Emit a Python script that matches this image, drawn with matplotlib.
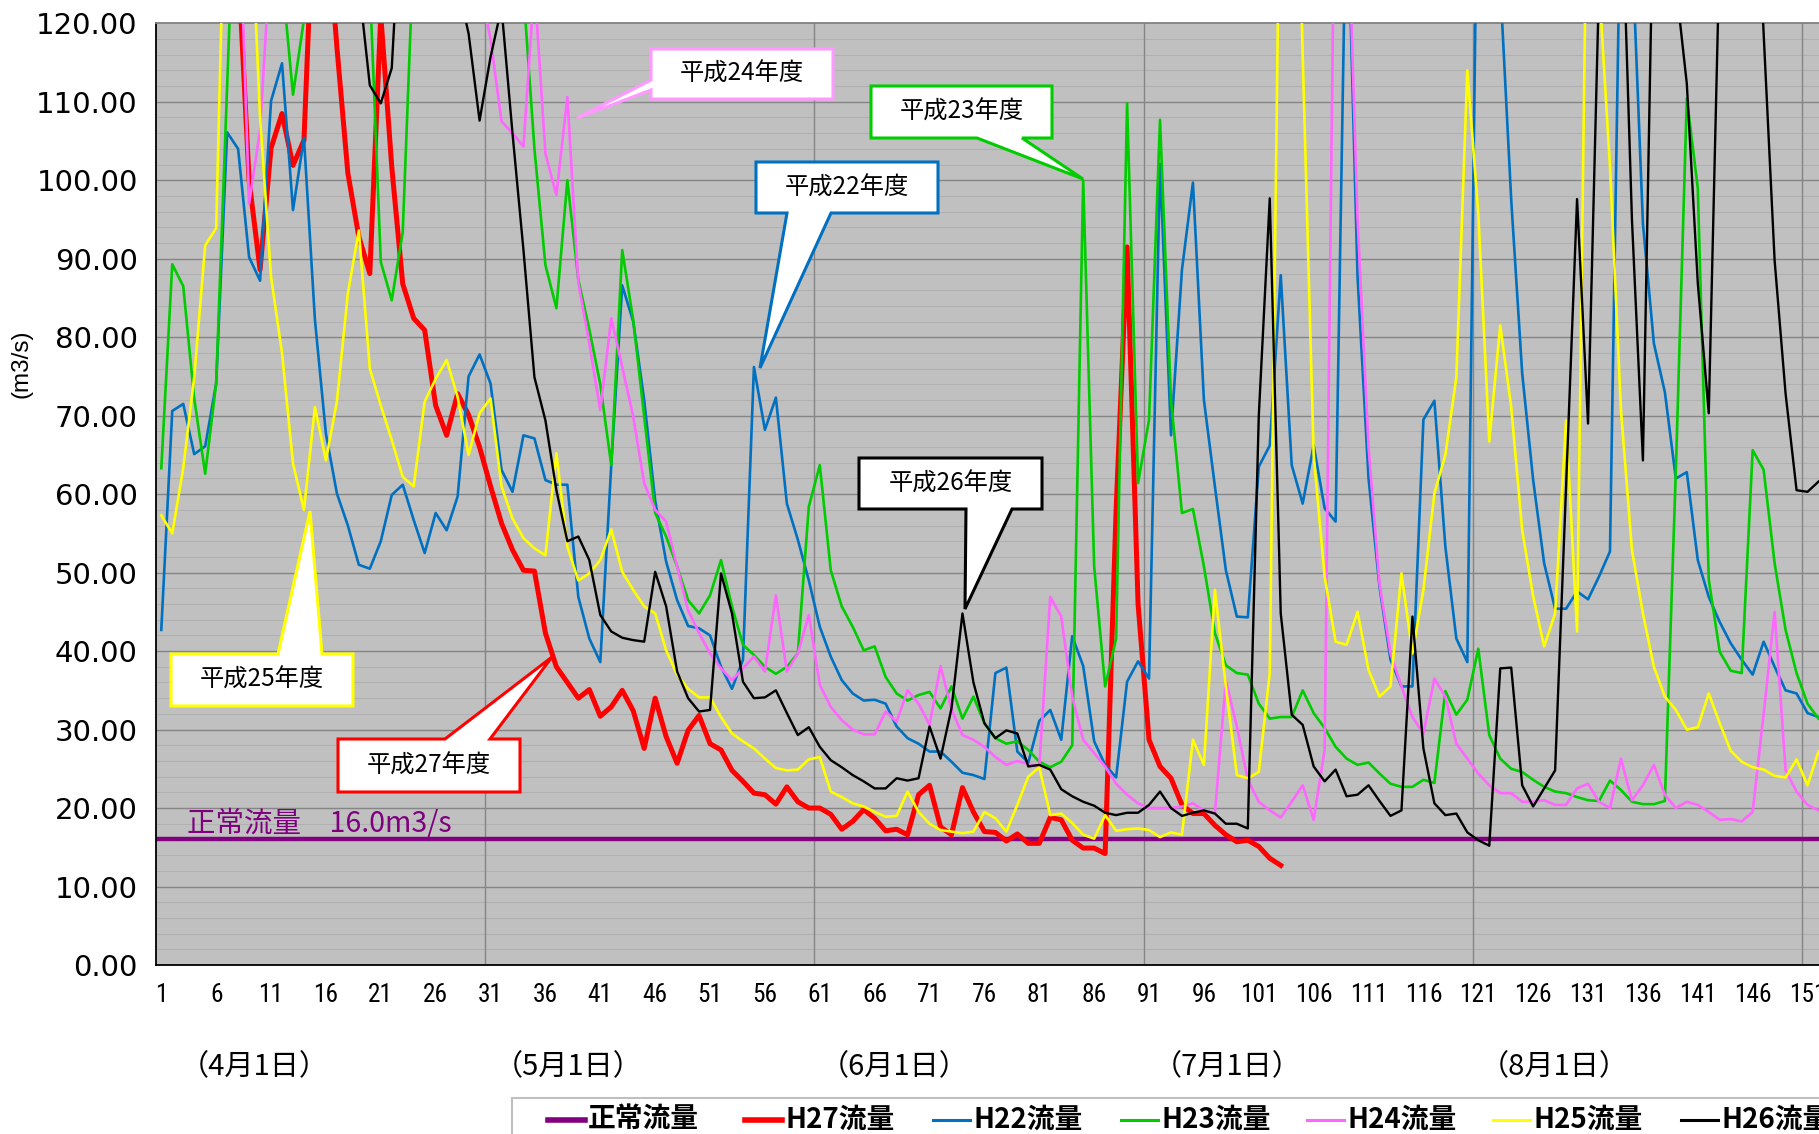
import matplotlib
matplotlib.use("Agg")
import matplotlib.pyplot as plt
from matplotlib.transforms import Affine2D
from matplotlib.patches import Polygon, Rectangle
from matplotlib.lines import Line2D
from matplotlib import font_manager
from matplotlib.font_manager import FontProperties
import numpy as np

# ---------------- data ----------------
days = list(range(1, 153))
normal_flow = 16.0

h27 = [150, 160, 170, 165, 180, 200, 190, 128, 100, 88.6,
       104.1, 108.5, 101.9, 105.1, 140, 135, 117, 100.9, 92.8, 88.1,
       121, 101.7, 86.8, 82.4, 80.9, 71.3, 67.5, 72.8, 70.1, 66.0,
       61.0, 56.3, 52.9, 50.3, 50.2, 42.3, 38.0, 36.0, 34.0, 35.1,
       31.7, 32.9, 35.0, 32.4, 27.6, 34.0, 29.1, 25.7, 29.9, 31.8,
       28.2, 27.4, 24.8, 23.4, 21.9, 21.7, 20.5, 22.7, 20.8, 20.0,
       20.0, 19.2, 17.3, 18.3, 19.8, 18.7, 17.1, 17.3, 16.6, 21.7,
       22.9, 17.6, 16.6, 22.6, 19.5, 17.0, 16.9, 15.8, 16.7, 15.5,
       15.5, 18.8, 18.5, 15.9, 14.9, 14.9, 14.2, 58.0, 91.5, 46.0,
       28.7, 25.3, 23.8, 20.4, 19.3, 19.3, 17.8, 16.6, 15.7, 15.9,
       15.1, 13.6, 12.7]

h22 = [42.7, 70.6, 71.5, 65.1, 66.1, 74.1, 106.1, 104.0, 90.2, 87.2,
       110.1, 114.9, 96.2, 105.4, 82.2, 67.7, 60.1, 56.0, 51.0, 50.5,
       54.0, 59.9, 61.2, 56.7, 52.5, 57.6, 55.4, 59.7, 75.0, 77.8,
       74.1, 63.1, 60.3, 67.5, 67.1, 61.8, 61.2, 61.2, 46.9, 41.6,
       38.6, 63.7, 86.6, 82.0, 72.0, 59.2, 51.4, 46.5, 43.2, 42.9,
       42.0, 38.0, 35.2, 38.9, 76.2, 68.2, 72.3, 58.8, 54.2, 49.0,
       43.1, 39.3, 36.3, 34.6, 33.7, 33.8, 33.3, 30.4, 28.9, 28.2,
       27.2, 27.2, 25.9, 24.5, 24.2, 23.7, 37.2, 37.9, 27.2, 25.8,
       31.1, 32.5, 28.7, 41.9, 38.1, 28.5, 25.5, 23.9, 36.1, 38.7,
       36.5, 102.1, 67.5, 88.6, 99.7, 72.0, 61.0, 50.3, 44.4, 44.3,
       63.5, 66.2, 87.9, 63.7, 58.8, 66.2, 58.2, 56.5, 140, 87.7,
       62.0, 48.2, 38.9, 35.5, 35.5, 69.5, 71.9, 53.3, 41.6, 38.6,
       150, 160, 125, 97.5, 75.4, 61.8, 51.2, 45.4, 45.4, 47.6,
       46.6, 49.5, 52.7, 140, 130, 94.5, 79.2, 73.0, 62.0, 62.8,
       51.6, 46.9, 43.7, 41.0, 38.9, 37.0, 41.2, 38.0, 35.0, 34.6,
       32.1, 31.6]

h23 = [63.3, 89.3, 86.5, 72.2, 62.6, 74.1, 112, 150, 170, 160,
       140, 126, 110.9, 120.5, 140, 160, 170, 150, 135, 125,
       89.6, 84.7, 93.4, 130, 160, 180, 170, 150, 160, 170,
       150, 140, 130, 124, 104, 89.2, 83.7, 100.0, 87.3, 81.0,
       74.0, 63.7, 91.1, 82.2, 69.9, 57.6, 54.6, 50.8, 46.5, 44.8,
       47.1, 51.6, 45.7, 40.8, 39.5, 38.0, 37.1, 38.0, 39.7, 58.4,
       63.7, 50.3, 45.7, 43.1, 40.1, 40.6, 36.7, 34.6, 33.7, 34.4,
       34.8, 32.7, 35.5, 31.4, 34.2, 30.8, 28.9, 28.2, 28.5, 27.4,
       25.9, 25.2, 25.9, 28.0, 100.0, 50.8, 35.5, 41.6, 109.8, 61.4,
       69.5, 107.7, 72.0, 57.6, 58.1, 50.8, 42.3, 38.2, 37.2, 37.0,
       33.3, 31.4, 31.6, 31.6, 35.0, 32.1, 30.2, 27.8, 26.3, 25.5,
       25.8, 24.4, 23.1, 22.7, 22.7, 23.6, 23.2, 34.9, 31.9, 33.8,
       40.3, 29.3, 26.3, 25.0, 24.6, 23.6, 22.7, 22.1, 21.9, 21.4,
       21.0, 20.9, 23.5, 22.3, 20.8, 20.5, 20.5, 20.9, 63.0, 110.4,
       99.0, 49.1, 39.9, 37.5, 37.2, 65.6, 63.1, 51.2, 42.7, 37.2,
       33.3, 31.4]

h24 = [150, 160, 170, 180, 190, 200, 180, 140, 97.0, 106.4,
       130, 150, 170, 160, 180, 200, 190, 170, 160, 150,
       160, 170, 180, 160, 150, 140, 150, 160, 140, 125,
       118, 107.5, 106.0, 104.3, 125, 103.4, 98.1, 110.6, 86.9, 79.2,
       70.7, 82.4, 76.2, 69.9, 61.4, 58.0, 56.5, 50.8, 45.2, 42.3,
       39.7, 37.8, 36.3, 37.8, 39.3, 37.4, 47.1, 37.4, 39.7, 44.6,
       35.7, 32.9, 31.2, 30.0, 29.4, 29.4, 32.3, 31.0, 35.0, 33.3,
       30.6, 38.1, 32.6, 29.3, 28.7, 27.8, 26.5, 25.5, 26.0, 25.6,
       25.3, 46.9, 44.4, 34.2, 28.7, 27.0, 25.3, 23.1, 21.7, 20.6,
       20.0, 20.0, 20.0, 20.2, 20.6, 19.7, 19.3, 36.3, 30.4, 23.6,
       20.8, 19.7, 18.8, 20.8, 22.9, 18.5, 27.4, 150, 140, 95.0,
       66.0, 48.6, 39.7, 35.5, 31.6, 29.5, 36.5, 34.2, 28.2, 26.3,
       24.4, 22.9, 21.9, 21.9, 20.8, 20.8, 21.0, 20.4, 20.4, 22.5,
       23.1, 20.8, 20.0, 26.3, 21.0, 22.9, 25.5, 21.7, 20.0, 20.8,
       20.4, 19.5, 18.5, 18.6, 18.3, 19.5, 32.0, 45.0, 24.8, 22.1,
       20.4, 19.7]

h25 = [57.3, 55.0, 63.3, 74.9, 91.7, 93.9, 150, 170, 140, 108.0,
       87.7, 78.0, 63.9, 58.0, 71.1, 64.3, 71.8, 85.6, 93.6, 76.0,
       71.3, 66.9, 62.2, 61.0, 71.8, 74.7, 77.1, 72.4, 65.0, 70.3,
       72.2, 61.0, 56.9, 54.4, 53.1, 52.2, 65.2, 53.3, 49.0, 49.9,
       51.6, 55.5, 50.1, 47.8, 45.7, 44.8, 40.1, 37.0, 35.2, 34.1,
       34.1, 31.6, 29.5, 28.5, 27.6, 26.3, 25.1, 24.8, 24.9, 26.2,
       26.5, 22.1, 21.4, 20.6, 20.2, 19.5, 18.9, 19.0, 22.1, 19.5,
       18.0, 17.2, 17.0, 16.8, 17.0, 19.5, 18.7, 17.0, 20.4, 24.0,
       25.2, 19.1, 19.3, 18.1, 16.6, 16.1, 19.1, 17.1, 17.3, 17.4,
       17.2, 16.3, 16.9, 16.6, 28.7, 25.5, 47.8, 35.5, 24.2, 23.8,
       24.6, 37.2, 150, 170, 116, 65.0, 49.5, 41.2, 40.8, 45.0,
       37.6, 34.2, 35.5, 49.9, 39.7, 47.8, 60.1, 65.0, 74.9, 114.0,
       95.8, 66.7, 81.5, 71.1, 55.4, 47.0, 40.6, 44.8, 69.4, 42.5,
       150, 125, 101.7, 70.7, 52.9, 44.8, 38.0, 34.2, 32.5, 30.0,
       30.3, 34.6, 30.8, 27.3, 25.9, 25.2, 24.9, 24.1, 23.9, 26.2,
       22.9, 27.2]

h26 = [180, 200, 220, 210, 230, 250, 260, 240, 230, 220,
       200, 190, 180, 170, 160, 150, 140, 130, 125, 112.1,
       109.8, 114.3, 140, 160, 180, 170, 150, 125, 118.7, 107.6,
       115.7, 122, 106.0, 91.1, 74.9, 69.4, 60.5, 54.0, 54.6, 51.6,
       44.6, 42.5, 41.7, 41.4, 41.2, 50.1, 45.7, 37.4, 34.0, 32.3,
       32.5, 49.9, 44.8, 36.1, 34.0, 34.1, 35.0, 32.1, 29.3, 30.3,
       27.8, 26.1, 25.2, 24.2, 23.4, 22.5, 22.5, 23.8, 23.5, 23.8,
       30.4, 26.3, 32.7, 44.8, 36.0, 30.8, 28.9, 29.9, 29.5, 25.3,
       25.5, 24.9, 22.4, 21.5, 20.8, 20.3, 19.4, 19.1, 19.4, 19.4,
       20.4, 22.1, 20.0, 19.0, 19.4, 19.7, 19.3, 18.0, 18.0, 17.4,
       70.0, 97.7, 44.8, 31.9, 30.6, 25.3, 23.4, 24.9, 21.5, 21.7,
       22.9, 20.9, 19.0, 19.7, 44.4, 27.6, 20.6, 19.1, 19.3, 16.9,
       15.9, 15.2, 37.8, 37.9, 22.9, 20.2, 22.5, 24.8, 61.0, 97.6,
       69.0, 125, 160, 140, 95.0, 64.3, 140, 170, 125, 112.3,
       86.9, 70.3, 130, 160, 180, 150, 118.7, 89.8, 72.8, 60.5,
       60.3, 61.6]

xtick_days = list(range(1, 152, 5))
ytick_vals = list(range(0, 121, 10))
month_labels = ["（4月1日）", "（5月1日）", "（6月1日）", "（7月1日）", "（8月1日）"]
legend_labels = ["正常流量", "H27流量", "H22流量", "H23流量", "H24流量", "H25流量", "H26流量"]
callout_labels = ["平成24年度", "平成23年度", "平成22年度", "平成26年度", "平成25年度", "平成27年度"]

# ---------------- fonts ----------------
CJK = ["Noto Sans CJK JP", "DejaVu Sans"]


def pick_narrow():
    fl = font_manager.fontManager.ttflist
    prefs = ["Liberation Sans Narrow", "Arial Narrow", "Roboto Condensed",
             "Open Sans Condensed", "Noto Sans Condensed"]
    for p in prefs:
        for f in fl:
            if f.name == p and f.weight in (400, "normal", "regular") and f.style == "normal":
                return FontProperties(fname=f.fname)
    for fam in ["Roboto", "Noto Sans", "Open Sans", "DejaVu Sans", "Liberation Sans"]:
        for f in fl:
            if (f.name == fam and str(f.stretch) in ("condensed", "semi-condensed", "extra-condensed")
                    and f.style == "normal" and f.weight in (400, "normal", "regular")):
                return FontProperties(fname=f.fname)
    for f in fl:
        n = f.fname.lower()
        if ("narrow" in n or "condensed" in n) and "bold" not in n and "italic" not in n \
                and "oblique" not in n and "mono" not in n and "serif" not in n.replace("sans", ""):
            return FontProperties(fname=f.fname)
    return FontProperties(family="Liberation Sans")


NARROW = pick_narrow()

W, H = 1819, 1134
fig = plt.figure(figsize=(W / 100, H / 100), dpi=100)
px = Affine2D().scale(1 / W, -1 / H).translate(0, 1) + fig.transFigure

# size the narrow font from the reference's tick-label widths and heights
_r = fig.canvas.get_renderer()
_t = fig.text(0, 0, "00", fontproperties=NARROW, fontsize=100)
_w2 = _t.get_window_extent(_r).width
_t.remove()
size_w = 100 * 24.0 / _w2            # two digits ~24 px wide
size_h = 20.0 / 0.72 * 72 / 100      # digits ~20 px tall
XT_SIZE = min(21.0, (size_w * size_w * size_h) ** (1 / 3))

L, R, T, B = 155.8, 1819, 23.3, 965
ax = fig.add_axes([L / W, (H - B) / H, (R - L) / W, (B - T) / H])
ax.set_facecolor("#C0C0C0")
ax.set_xlim(0.5, 0.5 + (R - L) / 10.975)
ax.set_ylim(0, 120)

for v in np.arange(2, 120, 2):
    if v % 10:
        ax.axhline(v, color="#B0B0B0", lw=0.8, zorder=0.5)
for v in ytick_vals[1:-1]:
    ax.axhline(v, color="#858585", lw=1.0, zorder=0.6)
for v in np.arange(30.5, 152, 30):
    ax.axvline(v, color="#858585", lw=1.0, zorder=0.6)

cols = {"n": "#800080", "h27": "#FF0000", "h22": "#0070C0", "h23": "#00CC00",
        "h24": "#FF66FF", "h25": "#FFFF00", "h26": "#000000"}

ax.plot([0.5, 160], [normal_flow, normal_flow], color=cols["n"], lw=3.2, zorder=2, solid_capstyle="butt")
ax.plot(days[:len(h27)], h27, color=cols["h27"], lw=3.6, zorder=3, solid_joinstyle="round")
ax.plot(days, h22, color=cols["h22"], lw=1.9, zorder=3)
ax.plot(days, h23, color=cols["h23"], lw=1.9, zorder=3)
ax.plot(days, h24, color=cols["h24"], lw=1.9, zorder=3)
ax.plot(days, h25, color=cols["h25"], lw=1.9, zorder=3)
ax.plot(days, h26, color=cols["h26"], lw=1.7, zorder=3)

ax.set_yticks(ytick_vals)
ax.set_yticklabels([f"{v:.2f}" for v in ytick_vals], fontsize=21, family="DejaVu Sans")
ax.set_xticks(xtick_days)
ax.set_xticklabels([str(d) for d in xtick_days])
for lab in ax.get_xticklabels():
    lab.set_fontproperties(NARROW)
    lab.set_fontsize(XT_SIZE)
ax.tick_params(axis="both", length=0)
ax.tick_params(axis="y", pad=13)
ax.tick_params(axis="x", pad=13)

for s in ["left", "bottom"]:
    ax.spines[s].set_color("black")
    ax.spines[s].set_linewidth(1.3)
ax.spines["top"].set_color("#808080")
ax.spines["top"].set_linewidth(1.3)
ax.spines["right"].set_visible(False)

# normal flow label
ax.text(187, 832, "正常流量　16.0m3/s", transform=px, color="#7F007F", fontsize=20.5,
        family=CJK, ha="left", va="baseline", zorder=4)

# y-axis label
fig.text(22, 364, "(m3/s)", transform=px, rotation=90, family=["Liberation Sans", "DejaVu Sans"],
         fontsize=17.5, ha="center", va="center")

# month labels
for lab, x in zip(month_labels, [254, 568, 894, 1227, 1554]):
    fig.text(x, 1067, lab, transform=px, fontsize=21, family=CJK, ha="center", va="center")

# callouts
def callout(box, side, a, b, tip, color, text):
    x0, y0, x1, y1 = box
    if side == "left":
        verts = [(x0, y0), (x1, y0), (x1, y1), (x0, y1), (x0, b), tip, (x0, a)]
    elif side == "bottom":
        verts = [(x0, y0), (x1, y0), (x1, y1), (b, y1), tip, (a, y1), (x0, y1)]
    else:
        verts = [(x0, y0), (a, y0), tip, (b, y0), (x1, y0), (x1, y1), (x0, y1)]
    poly = Polygon(verts, closed=True, transform=px, facecolor="white", edgecolor=color,
                   lw=2.2, zorder=10, clip_on=False, joinstyle="miter")
    ax.add_patch(poly)
    ax.text((x0 + x1) / 2, (y0 + y1) / 2, text, transform=px, fontsize=17.5, family=CJK,
            ha="center", va="center", zorder=11)

callout((651, 49, 833, 99), "left", 80, 90, (577, 118), "#FF99FF", callout_labels[0])
callout((871, 86, 1052, 138), "bottom", 977, 1022, (1083, 179), "#00CC00", callout_labels[1])
callout((756, 162, 938, 213), "bottom", 787, 831, (760, 368), "#0070C0", callout_labels[2])
callout((859, 458, 1042, 509), "bottom", 966, 1012, (965, 609), "#000000", callout_labels[3])
callout((171, 654, 353, 706), "top", 278, 322, (310, 511), "#FFFF00", callout_labels[4])
callout((338, 739, 520, 792), "top", 445, 490, (552, 657), "#FF0000", callout_labels[5])

# legend (manual, mimicking the spreadsheet legend)
fig.patches.append(Rectangle((512, 1098), 1400, 80, transform=px, facecolor="white",
                             edgecolor="#BFBFBF", lw=1.5))
leg_colors = [cols["n"], cols["h27"], cols["h22"], cols["h23"], cols["h24"], cols["h25"], cols["h26"]]
leg_lw = [4.0, 4.0, 2.2, 2.2, 2.2, 2.2, 2.2]
leg_x = [548, 745, 933, 1121, 1307, 1493, 1681]
for lab, c, lw, x in zip(legend_labels, leg_colors, leg_lw, leg_x):
    fig.lines.append(Line2D([x, x + 37], [1120, 1120], transform=px, color=c, lw=lw))
    fig.text(x + 40, 1120, lab, transform=px, fontsize=20, family=CJK, weight="bold",
             ha="left", va="center")

fig.savefig("out.png", dpi=100)
